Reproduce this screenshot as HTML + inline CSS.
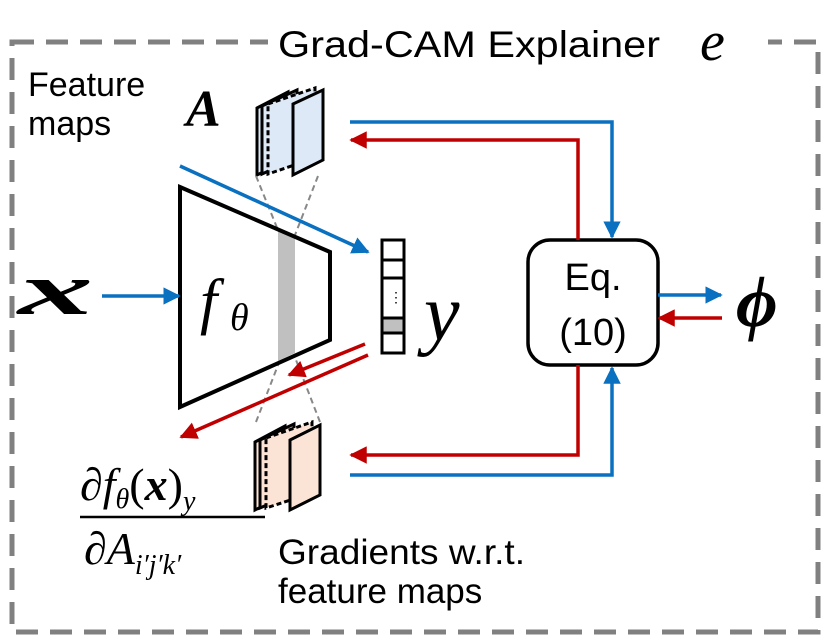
<!DOCTYPE html><html><head><style>body{margin:0;background:#fff}svg{display:block}</style></head><body>
<svg width="830" height="644" viewBox="0 0 830 644" xmlns="http://www.w3.org/2000/svg" font-family="Liberation Sans, sans-serif">
<defs>
<marker id="b" viewBox="0 0 10 10" refX="9" refY="5" markerWidth="5" markerHeight="5" orient="auto"><path d="M0,0L10,5L0,10z" fill="#0a70c0"/></marker>
<marker id="r" viewBox="0 0 10 10" refX="9" refY="5" markerWidth="5" markerHeight="5" orient="auto"><path d="M0,0L10,5L0,10z" fill="#c00000"/></marker>
</defs>
<rect x="12" y="42" width="806" height="590" fill="none" stroke="#808080" stroke-width="5" stroke-dasharray="22,12"/>
<rect x="268" y="15" width="500" height="50" fill="#fff"/>
<text x="278" y="57" font-size="37" textLength="382" lengthAdjust="spacingAndGlyphs">Grad-CAM Explainer</text>
<text x="700" y="60" font-size="56" font-style="italic" font-family="Liberation Serif, serif">e</text>
<text x="28" y="96" font-size="34">Feature</text>
<text x="28" y="135" font-size="34">maps</text>
<text x="186" y="126" font-size="52" font-weight="bold" font-style="italic" font-family="Liberation Serif, serif">A</text>
<g stroke="#000" stroke-width="3">
<path d="M257,108L288,92V160L257,175z" fill="#dde9f6"/>
<path d="M262,106L297,90V158L262,174z" fill="#dde9f6"/>
<path d="M268,104L315,88V158L268,174z" fill="#dde9f6" stroke-dasharray="5,3"/>
<path d="M293,104L323,90V160L293,175z" fill="#dde9f6"/>
<path d="M255,442L285,426V495L255,510z" fill="#fbe4d5"/>
<path d="M260,440L294,424V493L260,508z" fill="#fbe4d5"/>
<path d="M266,438L312,422V493L266,508z" fill="#fbe4d5" stroke-dasharray="5,3"/>
<path d="M290,440L320,425V495L290,510z" fill="#fbe4d5"/>
</g>
<g stroke="#888" stroke-width="2" stroke-dasharray="6,4" fill="none">
<path d="M256,176L280,235M318,176L295,235M256,422L280,360M320,422L296,360"/>
</g>
<path d="M180,187L330,252V340L180,407z" fill="#fff"/>
<path d="M278,230L295,238V353L278,361z" fill="#c0c0c0"/>
<path d="M180,187L330,252V340L180,407z" fill="none" stroke="#000" stroke-width="4"/>
<text x="200" y="322" font-size="62" font-style="italic" font-family="Liberation Serif, serif">f</text>
<text x="230" y="330" font-size="38" font-style="italic" font-family="Liberation Serif, serif">θ</text>
<text x="18" y="314" font-size="74" font-weight="bold" font-style="italic" font-family="Liberation Serif, serif" textLength="75" lengthAdjust="spacingAndGlyphs">x</text>
<line x1="102" y1="296" x2="179" y2="296" stroke="#0a70c0" stroke-width="3.5" marker-end="url(#b)"/>
<line x1="180" y1="166" x2="368" y2="252" stroke="#0a70c0" stroke-width="3.5" marker-end="url(#b)"/>
<line x1="365" y1="344" x2="289" y2="375" stroke="#c00000" stroke-width="3.5" marker-end="url(#r)"/>
<line x1="368" y1="355" x2="181" y2="437" stroke="#c00000" stroke-width="3.5" marker-end="url(#r)"/>
<g stroke="#000" stroke-width="3"><rect x="382" y="240" width="22" height="113" fill="#fff"/><line x1="382" y1="260" x2="404" y2="260"/><line x1="382" y1="278" x2="404" y2="278"/><rect x="382" y="318" width="22" height="15" fill="#c0c0c0"/></g>
<text x="389" y="302" font-size="14">⋮</text>
<text x="424" y="340" font-size="80" font-style="italic" font-family="Liberation Serif, serif">y</text>
<rect x="528" y="240" width="130" height="125" rx="22" fill="#fff" stroke="#000" stroke-width="3.5"/>
<text x="593" y="290" font-size="38" text-anchor="middle">Eq.</text>
<text x="593" y="345" font-size="38" text-anchor="middle">(10)</text>
<g fill="none" stroke-width="3.5">
<path d="M350,122H612V237" stroke="#0a70c0" marker-end="url(#b)"/>
<path d="M578,240V140H351" stroke="#c00000" marker-end="url(#r)"/>
<path d="M578,365V455H351" stroke="#c00000" marker-end="url(#r)"/>
<path d="M350,475H612V368" stroke="#0a70c0" marker-end="url(#b)"/>
<path d="M658,295H721" stroke="#0a70c0" marker-end="url(#b)"/>
<path d="M722,318H659" stroke="#c00000" marker-end="url(#r)"/>
</g>
<text x="736" y="326" font-size="72" font-weight="bold" font-style="italic" font-family="Liberation Serif, serif">ϕ</text>
<g font-family="Liberation Serif, serif" font-style="italic">
<text x="80" y="500" font-size="46">∂f<tspan font-size="28" dy="8">θ</tspan><tspan dy="-8" font-style="normal">(</tspan><tspan font-weight="bold">x</tspan><tspan font-style="normal">)</tspan><tspan font-size="28" dy="10">y</tspan></text>
<line x1="80" y1="517" x2="265" y2="517" stroke="#000" stroke-width="2.5"/>
<text x="84" y="564" font-size="46">∂A<tspan font-size="28" dy="10">i′j′k′</tspan></text>
</g>
<text x="278" y="564" font-size="35" textLength="247" lengthAdjust="spacingAndGlyphs">Gradients w.r.t.</text>
<text x="278" y="603" font-size="35">feature maps</text>
</svg>
</body></html>
